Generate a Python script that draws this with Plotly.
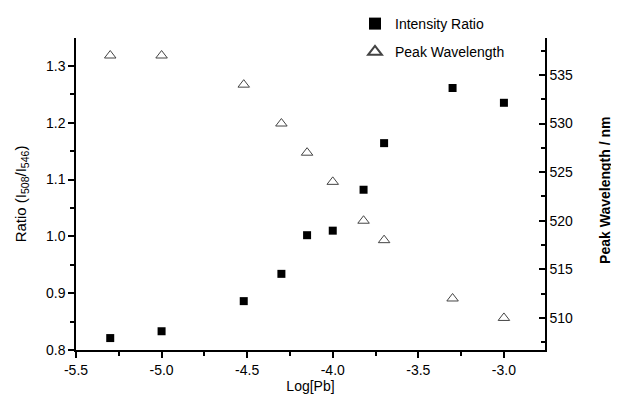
import plotly.graph_objects as go

log_pb = [-5.3, -5.0, -4.52, -4.3, -4.15, -4.0, -3.82, -3.7, -3.3, -3.0]
intensity_ratio = [0.821, 0.833, 0.886, 0.934, 1.002, 1.010, 1.082, 1.164, 1.261, 1.235]
peak_wavelength = [537, 537, 534, 530, 527, 524, 520, 518, 512, 510]

x_ticks = [-5.5, -5.0, -4.5, -4.0, -3.5, -3.0]
x_ticklabels = ["-5.5", "-5.0", "-4.5", "-4.0", "-3.5", "-3.0"]
y1_ticks = [0.8, 0.9, 1.0, 1.1, 1.2, 1.3]
y2_ticks = [510, 515, 520, 525, 530, 535]

font = "Liberation Sans, Arial, sans-serif"

W, H = 611, 399

fig = go.Figure()
fig.add_trace(go.Scatter(
    x=log_pb, y=intensity_ratio, mode="markers", name="Intensity Ratio",
    legendgroup="a",
    marker=dict(symbol="square", size=8, color="black"),
))
fig.add_trace(go.Scatter(
    x=log_pb, y=peak_wavelength, mode="markers", name="Peak Wavelength",
    legendgroup="b", yaxis="y2",
    marker=dict(symbol="triangle-up-open", size=10, color="#444444", line=dict(width=1)),
))

fig.update_layout(
    width=W, height=H,
    margin=dict(l=68, r=74, t=30, b=57, autoexpand=False),
    paper_bgcolor="white", plot_bgcolor="white",
    font=dict(family=font, size=14, color="black"),
    showlegend=True,
    legend=dict(x=347 / W, y=1.0, xref="container", yref="container",
                xanchor="left", yanchor="top",
                bgcolor="rgba(0,0,0,0)", font=dict(size=14),
                tracegroupgap=7, itemsizing="constant"),
    xaxis=dict(
        range=[-5.5, -2.76], tickvals=x_ticks, ticktext=x_ticklabels,
        showline=True, linecolor="black", linewidth=1.5, mirror=False,
        ticks="outside", ticklen=6, tickwidth=1.5, tickcolor="black",
        minor=dict(dtick=0.25, ticks="outside", ticklen=4, tickwidth=1.5, tickcolor="black"),
        showgrid=False, zeroline=False, automargin=False,
        title=dict(text="Log[Pb]", font=dict(size=14), standoff=4),
    ),
    yaxis=dict(
        range=[0.8, 1.349], tickvals=y1_ticks, tickformat=".1f",
        showline=True, linecolor="black", linewidth=1.5,
        ticks="outside", ticklen=6, tickwidth=1.5, tickcolor="black",
        minor=dict(dtick=0.05, ticks="outside", ticklen=4, tickwidth=1.5, tickcolor="black"),
        showgrid=False, zeroline=False, automargin=False,
        title=dict(text="Ratio (I<sub>508</sub>/I<sub>546</sub>)", font=dict(size=15), standoff=16),
    ),
    yaxis2=dict(
        overlaying="y", side="right", range=[506.7, 538.8], tickvals=y2_ticks,
        showline=True, linecolor="black", linewidth=1.5,
        ticks="inside", ticklen=6, tickwidth=1.5, tickcolor="black",
        minor=dict(dtick=2.5, ticks="inside", ticklen=4, tickwidth=1.5, tickcolor="black"),
        showgrid=False, zeroline=False, automargin=False,
    ),
    annotations=[dict(
        text="<b>Peak Wavelength / nm</b>", xref="paper", yref="paper",
        x=1, xshift=60, y=0.51, xanchor="center", yanchor="middle",
        textangle=-90, showarrow=False, font=dict(size=14, color="black"),
    )],
)

fig.write_html("out.html")
